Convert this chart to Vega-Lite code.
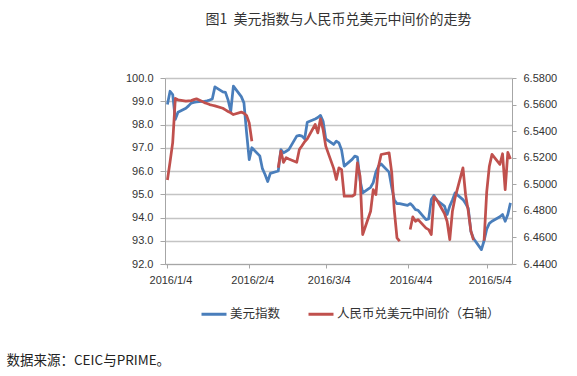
{
  "$schema": "https://vega.github.io/schema/vega-lite/v6.json",
  "width": 347,
  "height": 186,
  "autosize": {"type": "none"},
  "padding": {"left": 165, "top": 78, "right": 65, "bottom": 112},
  "background": "white",
  "title": {
    "text": "图1\u00a0\u00a0美元指数与人民币兑美元中间价的走势",
    "font": "Noto Sans CJK SC",
    "fontSize": 14,
    "fontWeight": "normal",
    "color": "#333333",
    "anchor": "middle",
    "baseline": "alphabetic",
    "offset": 34
  },
  "data": {
    "values": [
      {"date": "2016/01/04", "dxy": 98.86, "cny": 6.5032},
      {"date": "2016/01/05", "dxy": 99.43, "cny": 6.5169},
      {"date": "2016/01/06", "dxy": 99.29, "cny": 6.5314},
      {"date": "2016/01/07", "dxy": 98.22, "cny": 6.5646},
      {"date": "2016/01/08", "dxy": 98.53, "cny": 6.5636},
      {"date": "2016/01/11", "dxy": 98.70, "cny": 6.5626},
      {"date": "2016/01/12", "dxy": 98.80, "cny": 6.5628},
      {"date": "2016/01/13", "dxy": 98.92, "cny": 6.5630},
      {"date": "2016/01/14", "dxy": 98.95, "cny": 6.5637},
      {"date": "2016/01/15", "dxy": 98.97, "cny": 6.5643},
      {"date": "2016/01/18", "dxy": 99.00, "cny": 6.5615},
      {"date": "2016/01/19", "dxy": 99.02, "cny": 6.5608},
      {"date": "2016/01/20", "dxy": 99.05, "cny": 6.5600},
      {"date": "2016/01/21", "dxy": 99.10, "cny": 6.5595},
      {"date": "2016/01/22", "dxy": 99.62, "cny": 6.5590},
      {"date": "2016/01/25", "dxy": 99.40, "cny": 6.5572},
      {"date": "2016/01/26", "dxy": 99.38, "cny": 6.5560},
      {"date": "2016/01/27", "dxy": 99.05, "cny": 6.5548},
      {"date": "2016/01/28", "dxy": 98.57, "cny": 6.5538},
      {"date": "2016/01/29", "dxy": 99.65, "cny": 6.5525},
      {"date": "2016/02/01", "dxy": 99.20, "cny": 6.5543},
      {"date": "2016/02/02", "dxy": 98.93, "cny": 6.5535},
      {"date": "2016/02/03", "dxy": 97.65, "cny": 6.5518},
      {"date": "2016/02/04", "dxy": 96.49, "cny": 6.5462},
      {"date": "2016/02/05", "dxy": 97.00, "cny": 6.5324},
      {"date": "2016/02/08", "dxy": 96.65, "cny": null},
      {"date": "2016/02/09", "dxy": 96.10, "cny": null},
      {"date": "2016/02/10", "dxy": 95.85, "cny": null},
      {"date": "2016/02/11", "dxy": 95.55, "cny": null},
      {"date": "2016/02/12", "dxy": 95.90, "cny": null},
      {"date": "2016/02/15", "dxy": 96.00, "cny": 6.5124},
      {"date": "2016/02/16", "dxy": 96.92, "cny": 6.5249},
      {"date": "2016/02/17", "dxy": 96.78, "cny": 6.5165},
      {"date": "2016/02/18", "dxy": 96.85, "cny": 6.5200},
      {"date": "2016/02/19", "dxy": 96.92, "cny": 6.5190},
      {"date": "2016/02/22", "dxy": 97.50, "cny": 6.5166},
      {"date": "2016/02/23", "dxy": 97.53, "cny": 6.5262},
      {"date": "2016/02/24", "dxy": 97.50, "cny": 6.5290},
      {"date": "2016/02/25", "dxy": 97.38, "cny": 6.5320},
      {"date": "2016/02/26", "dxy": 98.10, "cny": 6.5342},
      {"date": "2016/02/29", "dxy": 98.24, "cny": 6.5450},
      {"date": "2016/03/01", "dxy": 98.30, "cny": 6.5387},
      {"date": "2016/03/02", "dxy": 98.39, "cny": 6.5493},
      {"date": "2016/03/03", "dxy": 98.14, "cny": 6.5412},
      {"date": "2016/03/04", "dxy": 97.38, "cny": 6.5287},
      {"date": "2016/03/07", "dxy": 97.14, "cny": 6.5120},
      {"date": "2016/03/08", "dxy": 97.28, "cny": 6.5036},
      {"date": "2016/03/09", "dxy": 97.21, "cny": 6.5124},
      {"date": "2016/03/10", "dxy": 96.90, "cny": 6.5111},
      {"date": "2016/03/11", "dxy": 96.21, "cny": 6.4910},
      {"date": "2016/03/14", "dxy": 96.50, "cny": 6.4910},
      {"date": "2016/03/15", "dxy": 96.64, "cny": 6.4923},
      {"date": "2016/03/16", "dxy": 96.60, "cny": 6.5161},
      {"date": "2016/03/17", "dxy": 95.60, "cny": 6.5060},
      {"date": "2016/03/18", "dxy": 95.06, "cny": 6.4622},
      {"date": "2016/03/21", "dxy": 95.30, "cny": 6.4797},
      {"date": "2016/03/22", "dxy": 95.50, "cny": 6.4960},
      {"date": "2016/03/23", "dxy": 95.95, "cny": 6.4923},
      {"date": "2016/03/24", "dxy": 96.20, "cny": 6.5136},
      {"date": "2016/03/25", "dxy": 96.30, "cny": 6.5224},
      {"date": "2016/03/28", "dxy": 95.95, "cny": 6.5237},
      {"date": "2016/03/29", "dxy": 95.30, "cny": 6.5090},
      {"date": "2016/03/30", "dxy": 94.75, "cny": 6.4800},
      {"date": "2016/03/31", "dxy": 94.60, "cny": 6.4597},
      {"date": "2016/04/01", "dxy": 94.60, "cny": 6.4571},
      {"date": "2016/04/04", "dxy": 94.52, "cny": null},
      {"date": "2016/04/05", "dxy": 94.60, "cny": 6.4659},
      {"date": "2016/04/06", "dxy": 94.49, "cny": 6.4755},
      {"date": "2016/04/07", "dxy": 94.34, "cny": 6.4722},
      {"date": "2016/04/08", "dxy": 94.31, "cny": 6.4734},
      {"date": "2016/04/11", "dxy": 93.91, "cny": 6.4670},
      {"date": "2016/04/12", "dxy": 93.94, "cny": 6.4659},
      {"date": "2016/04/13", "dxy": 94.77, "cny": 6.4622},
      {"date": "2016/04/14", "dxy": 94.95, "cny": 6.4905},
      {"date": "2016/04/15", "dxy": 94.75, "cny": 6.4885},
      {"date": "2016/04/18", "dxy": 94.49, "cny": 6.4780},
      {"date": "2016/04/19", "dxy": 94.13, "cny": 6.4720},
      {"date": "2016/04/20", "dxy": 94.49, "cny": 6.4584},
      {"date": "2016/04/21", "dxy": 94.75, "cny": 6.4797},
      {"date": "2016/04/22", "dxy": 95.06, "cny": 6.4898},
      {"date": "2016/04/25", "dxy": 94.77, "cny": 6.5124},
      {"date": "2016/04/26", "dxy": 94.60, "cny": 6.4920},
      {"date": "2016/04/27", "dxy": 94.40, "cny": 6.4800},
      {"date": "2016/04/28", "dxy": 93.40, "cny": 6.4650},
      {"date": "2016/04/29", "dxy": 93.10, "cny": 6.4580},
      {"date": "2016/05/02", "dxy": 92.62, "cny": null},
      {"date": "2016/05/03", "dxy": 93.00, "cny": 6.4575},
      {"date": "2016/05/04", "dxy": 93.50, "cny": 6.4943},
      {"date": "2016/05/05", "dxy": 93.75, "cny": 6.5136},
      {"date": "2016/05/06", "dxy": 93.84, "cny": 6.5225},
      {"date": "2016/05/09", "dxy": 94.03, "cny": 6.5150},
      {"date": "2016/05/10", "dxy": 94.13, "cny": 6.5230},
      {"date": "2016/05/11", "dxy": 93.84, "cny": 6.4960},
      {"date": "2016/05/12", "dxy": 94.13, "cny": 6.5240},
      {"date": "2016/05/13", "dxy": 94.63, "cny": 6.5190}
    ]
  },
  "encoding": {
    "x": {
      "field": "date",
      "type": "temporal",
      "scale": {
        "domain": [
          {"year": 2016, "month": 1, "date": 3, "hours": 2},
          {"year": 2016, "month": 5, "date": 13, "hours": 14}
        ]
      },
      "axis": {
        "values": [
          {"year": 2016, "month": 1, "date": 4},
          {"year": 2016, "month": 2, "date": 4},
          {"year": 2016, "month": 3, "date": 4},
          {"year": 2016, "month": 4, "date": 4},
          {"year": 2016, "month": 5, "date": 4}
        ],
        "format": "%Y/%-m/%-d",
        "labelFlush": false,
        "labelOverlap": false,
        "labelOffset": 3,
        "grid": false,
        "tickSize": 4,
        "labelPadding": 6,
        "domainColor": "#a6a6a6",
        "tickColor": "#a6a6a6",
        "labelFont": "Liberation Sans",
        "labelFontSize": 11,
        "labelColor": "#333333",
        "title": "数据来源：CEIC与PRIME。",
        "titleX": -159,
        "titleY": 96,
        "titleAlign": "left",
        "titleAnchor": "start",
        "titleBaseline": "middle",
        "titleFont": "Noto Sans CJK SC",
        "titleFontSize": 13.5,
        "titleFontWeight": "normal",
        "titleColor": "#222222"
      }
    }
  },
  "layer": [
    {
      "mark": {"type": "line", "strokeWidth": 2.75, "strokeJoin": "round"},
      "encoding": {
        "y": {
          "field": "dxy",
          "type": "quantitative",
          "scale": {"domain": [92, 100], "nice": false, "zero": false},
          "axis": {
            "values": [92, 93, 94, 95, 96, 97, 98, 99, 100],
            "format": ".1f",
            "title": null,
            "grid": true,
            "gridColor": "#c4c4c4",
            "gridWidth": 1.4,
            "tickSize": 5,
            "labelPadding": 7,
            "domainColor": "#a6a6a6",
            "tickColor": "#a6a6a6",
            "labelFont": "Liberation Sans",
            "labelFontSize": 11,
            "labelColor": "#333333"
          }
        },
        "color": {
          "datum": "美元指数",
          "type": "nominal",
          "scale": {
            "domain": ["美元指数", "人民币兑美元中间价（右轴）"],
            "range": ["#4A7EBB", "#C0504D"]
          },
          "legend": {
            "orient": "none",
            "legendX": 35,
            "legendY": 222,
            "direction": "horizontal",
            "title": null,
            "symbolType": "stroke",
            "symbolSize": 625,
            "symbolStrokeWidth": 3,
            "labelFont": "Noto Sans CJK SC",
            "labelFontSize": 12.5,
            "labelColor": "#333333",
            "labelOffset": 2,
            "columnPadding": 21,
            "padding": 0,
            "labelLimit": 400
          }
        }
      }
    },
    {
      "mark": {"type": "line", "strokeWidth": 2.75, "strokeJoin": "round", "invalid": "break-paths-show-domains"},
      "encoding": {
        "y": {
          "field": "cny",
          "type": "quantitative",
          "scale": {"domain": [6.44, 6.58], "nice": false, "zero": false},
          "axis": {
            "orient": "right",
            "values": [6.44, 6.46, 6.48, 6.5, 6.52, 6.54, 6.56, 6.58],
            "format": ".4f",
            "title": null,
            "grid": false,
            "tickSize": 4,
            "labelPadding": 7,
            "domainColor": "#a6a6a6",
            "tickColor": "#a6a6a6",
            "labelFont": "Liberation Sans",
            "labelFontSize": 11,
            "labelColor": "#333333"
          }
        },
        "color": {"datum": "人民币兑美元中间价（右轴）", "type": "nominal"}
      }
    }
  ],
  "resolve": {"scale": {"y": "independent"}},
  "config": {
    "view": {"stroke": null}
  }
}
